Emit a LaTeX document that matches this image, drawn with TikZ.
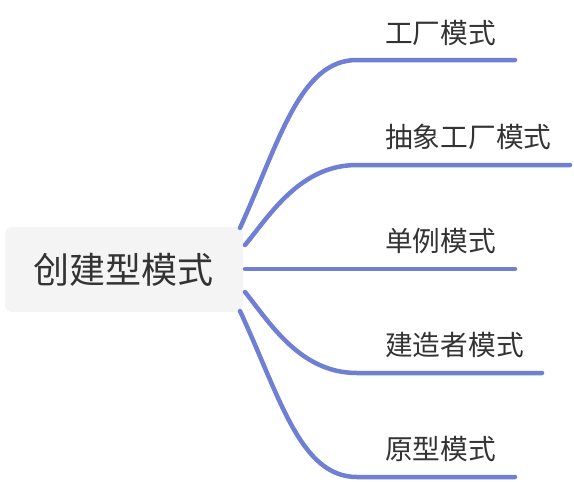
\documentclass[tikz,border=0pt]{standalone}
\usepackage{fontspec}
\newfontfamily\cjk{Noto Sans CJK SC}
\definecolor{branchblue}{RGB}{110,127,212}
\definecolor{rootgray}{RGB}{244,244,244}
\definecolor{textgray}{RGB}{51,51,51}
\begin{document}
\begin{tikzpicture}[x=1pt,y=-1pt]
\tikzstyle{every node}+=[inner sep=0pt,text=textgray]
\tikzstyle{root}=[fill=rootgray,rounded corners=7pt,minimum width=238pt,minimum height=85pt,font=\cjk\fontsize{36}{42}\selectfont]
\tikzstyle{leaf}=[anchor=west,font=\cjk\fontsize{27.7}{32}\selectfont]
\tikzstyle{branch}=[draw=branchblue,line width=4.5pt,line cap=round]
\useasboundingbox (0,0) rectangle (574,482);
\node [root] (root) at (124,269.5) {创建型模式};
\coordinate (s1) at (240,228);
\coordinate (s2) at (245,245);
\coordinate (s3) at (245,269);
\coordinate (s4) at (245,292);
\coordinate (s5) at (240,311);
\coordinate (b1) at (357,60);
\coordinate (b2) at (357,165);
\coordinate (b4) at (357,373);
\coordinate (b5) at (357,477);
\coordinate (e1) at (515,60);
\coordinate (e2) at (570,165);
\coordinate (e3) at (515,269);
\coordinate (e4) at (542,373);
\coordinate (e5) at (515,477);
\draw [branch] (s1) .. controls (280,140) and (300,60) .. (b1) -- (e1);
\draw [branch] (s2) .. controls (270,215) and (300,165) .. (b2) -- (e2);
\draw [branch] (s3) -- (e3);
\draw [branch] (s4) .. controls (270,323) and (300,373) .. (b4) -- (e4);
\draw [branch] (s5) .. controls (280,397) and (300,477) .. (b5) -- (e5);
\node [leaf] (factory) at (385,33) {工厂模式};
\node [leaf] (absfactory) at (385,137) {抽象工厂模式};
\node [leaf] (singleton) at (385,241) {单例模式};
\node [leaf] (builder) at (385,345) {建造者模式};
\node [leaf] (prototype) at (385,449) {原型模式};
\end{tikzpicture}
\end{document}
